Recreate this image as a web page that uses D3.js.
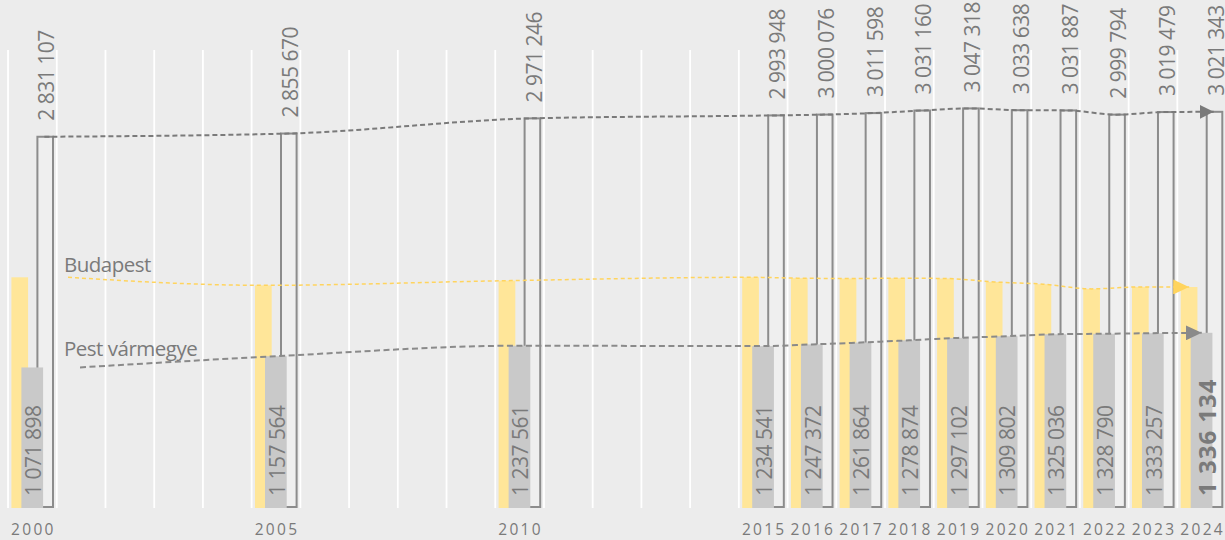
<!DOCTYPE html>
<html>
<head>
<meta charset="utf-8">
<script src="https://cdn.jsdelivr.net/npm/d3@7"></script>
<style>
  body { margin: 0; background: #ececec; }
  svg { display: block; font-family: 'Open Sans', sans-serif; }
</style>
</head>
<body>
<svg id="chart" width="1225" height="540"></svg>
<script>
var years = [2000, 2005, 2010, 2015, 2016, 2017, 2018, 2019, 2020, 2021, 2022, 2023, 2024];
var total = [2831107, 2855670, 2971246, 2993948, 3000076, 3011598, 3031160, 3047318, 3033638, 3031887, 2999794, 3019479, 3021343];
var pest = [1071898, 1157564, 1237561, 1234541, 1247372, 1261864, 1278874, 1297102, 1309802, 1325036, 1328790, 1333257, 1336134];
var budapest = [1759209, 1698106, 1733685, 1759407, 1752704, 1749734, 1752286, 1750216, 1723836, 1706851, 1671004, 1686222, 1685209];
var seriesNames = ['Budapest', 'Pest vármegye'];

var textColor = '#7a7a7a';
var yellow = '#ffe699';
var yellowLine = '#ffd45e';
var greyBar = '#c9c9c9';
var outline = '#8c8c8c';

var svg = d3.select('#chart');
var x = d3.scaleLinear().domain([2000, 2024]).range([32.4, 1201.7]);
var y = d3.scaleLinear().domain([0, 3874000]).range([508, 0]);
var fmt = function (v) { return d3.format(',')(v).replace(/,/g, ' '); };

var rows = years.map(function (yr, i) {
    return { year: yr, total: total[i], pest: pest[i], budapest: budapest[i], last: i === years.length - 1 };
});

// white year gridlines (one per year slot, also for the missing years)
svg.append('g')
    .selectAll('line')
    .data(d3.range(2000, 2025))
    .enter()
    .append('line')
        .attr('x1', function (d) { return x(d) - 24.36; })
        .attr('x2', function (d) { return x(d) - 24.36; })
        .attr('y1', 50)
        .attr('y2', 508)
        .attr('stroke', '#ffffff')
        .attr('stroke-width', 1.8);

// Budapest bars
svg.append('g')
    .selectAll('rect')
    .data(rows)
    .enter()
    .append('rect')
        .attr('x', function (d) { return x(d.year) - 21; })
        .attr('width', 16.7)
        .attr('y', function (d) { return y(d.budapest); })
        .attr('height', function (d) { return y(0) - y(d.budapest); })
        .attr('fill', yellow);

// total (outlined) bars
svg.append('g')
    .selectAll('rect')
    .data(rows)
    .enter()
    .append('rect')
        .attr('x', function (d) { return x(d.year) + 5; })
        .attr('width', 15.6)
        .attr('y', function (d) { return y(d.total); })
        .attr('height', function (d) { return y(0) - y(d.total) - 1; })
        .attr('fill', '#efefef')
        .attr('stroke', outline)
        .attr('stroke-width', 2);

// Pest vármegye bars
svg.append('g')
    .selectAll('rect')
    .data(rows)
    .enter()
    .append('rect')
        .attr('x', function (d) { return x(d.year) - 11; })
        .attr('width', 21.7)
        .attr('y', function (d) { return y(d.pest); })
        .attr('height', function (d) { return y(0) - y(d.pest); })
        .attr('fill', greyBar);

// arrow markers
var defs = svg.append('defs');
function marker(id, color, len, h) {
    defs.append('marker')
        .attr('id', id)
        .attr('markerUnits', 'userSpaceOnUse')
        .attr('markerWidth', len)
        .attr('markerHeight', h)
        .attr('refX', len)
        .attr('refY', h / 2)
        .attr('orient', 'auto')
      .append('path')
        .attr('d', 'M0,0L' + len + ',' + (h / 2) + 'L0,' + h + 'Z')
        .attr('fill', color);
}
marker('arrTotal', '#7a7a7a', 14, 14);
marker('arrPest', '#8a8a8a', 16, 15);
marker('arrBud', yellowLine, 16, 15);

var line = d3.line().curve(d3.curveMonotoneX);

var totalPts = rows.map(function (d) { return [x(d.year) + 12, y(d.total)]; });
var pestPts = rows.map(function (d, i) { return [i === 0 ? 80 : x(d.year), y(d.pest)]; });
var budPts = rows.map(function (d, i) { return [i === 0 ? 68 : x(d.year) - 12.5, y(d.budapest)]; });

svg.append('path')
    .attr('d', line(budPts))
    .attr('fill', 'none')
    .attr('stroke', yellowLine)
    .attr('stroke-width', 1.5)
    .attr('stroke-dasharray', '4,3')
    .attr('marker-end', 'url(#arrBud)');

svg.append('path')
    .attr('d', line(pestPts))
    .attr('fill', 'none')
    .attr('stroke', '#8a8a8a')
    .attr('stroke-width', 2)
    .attr('stroke-dasharray', '6,3.5')
    .attr('marker-end', 'url(#arrPest)');

svg.append('path')
    .attr('d', line(totalPts))
    .attr('fill', 'none')
    .attr('stroke', '#7a7a7a')
    .attr('stroke-width', 2)
    .attr('stroke-dasharray', '5,3')
    .attr('marker-end', 'url(#arrTotal)');

// total labels above the outlined bars
svg.append('g')
    .selectAll('text')
    .data(rows)
    .enter()
    .append('text')
        .attr('transform', function (d) { return 'translate(' + (x(d.year) + 22) + ',' + (y(d.total) - 16) + ') rotate(-90)'; })
        .attr('font-size', 21)
        .attr('letter-spacing', -0.5)
        .attr('fill', textColor)
        .text(function (d) { return fmt(d.total); });

// Pest labels inside the grey bars
svg.append('g')
    .selectAll('text')
    .data(rows)
    .enter()
    .append('text')
        .attr('transform', function (d) {
            return 'translate(' + (x(d.year) + (d.last ? 14 : 8.6)) + ',496) rotate(-90)';
        })
        .attr('font-size', function (d) { return d.last ? 24 : 21; })
        .attr('font-weight', function (d) { return d.last ? 'bold' : 'normal'; })
        .attr('letter-spacing', function (d) { return d.last ? 1 : -0.5; })
        .attr('fill', textColor)
        .text(function (d) { return fmt(d.pest); });

// year labels
svg.append('g')
    .selectAll('text')
    .data(rows)
    .enter()
    .append('text')
        .attr('x', function (d) { return x(d.year) + 1; })
        .attr('y', 535)
        .attr('text-anchor', 'middle')
        .attr('font-size', 15.5)
        .attr('letter-spacing', 2.3)
        .attr('fill', textColor)
        .text(function (d) { return d.year; });

// series names
svg.append('g')
    .selectAll('text')
    .data(seriesNames)
    .enter()
    .append('text')
        .attr('x', 64)
        .attr('y', function (d, i) { return i === 0 ? 272 : 356; })
        .attr('font-size', 20.5)
        .attr('letter-spacing', -0.5)
        .attr('fill', textColor)
        .text(function (d) { return d; });
</script>
</body>
</html>
